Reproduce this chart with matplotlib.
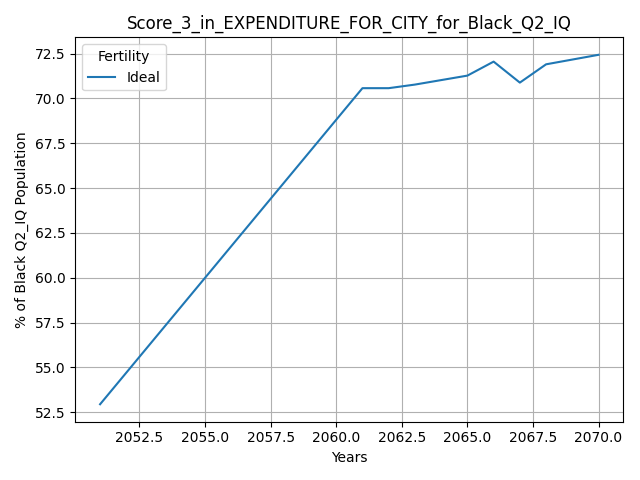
import matplotlib
matplotlib.use('Agg')
import matplotlib.pyplot as plt

years = [2051, 2061, 2062, 2063, 2065, 2066, 2067, 2068, 2070]
ideal = [52.95, 70.57, 70.57, 70.77, 71.27, 72.05, 70.88, 71.9, 72.43]

plt.figure(figsize=(6.4, 4.8), dpi=100)
plt.plot(years, ideal, label='Ideal', color='tab:blue')
plt.xlabel('Years')
plt.ylabel('% of Black Q2_IQ Population')
plt.title('Score_3_in_EXPENDITURE_FOR_CITY_for_Black_Q2_IQ')
plt.legend(title='Fertility', loc='upper left')
plt.grid(True)
plt.tight_layout()
plt.savefig('out.png')
